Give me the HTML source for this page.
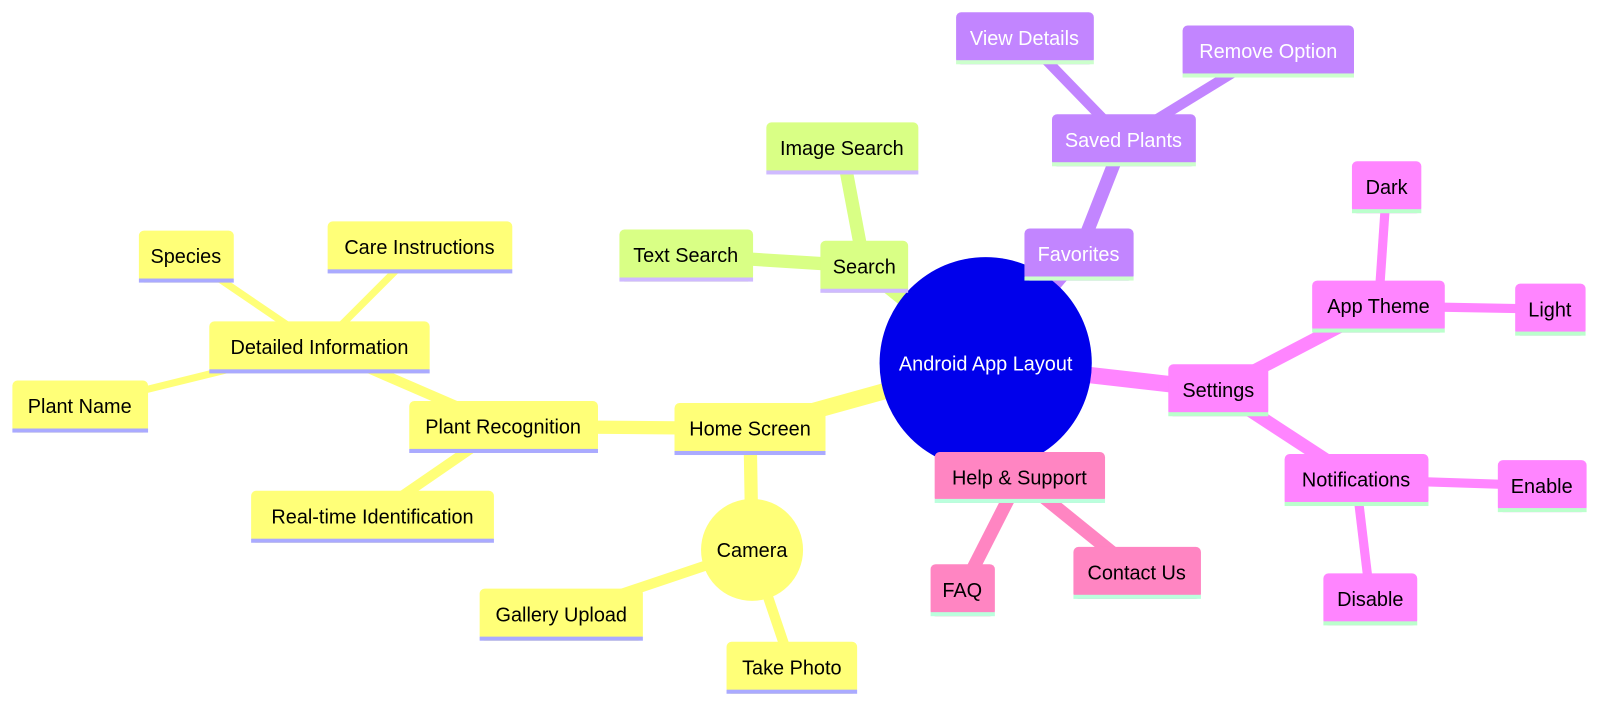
<!DOCTYPE html>
<html><head><meta charset="utf-8"><style>
html,body{margin:0;padding:0;background:#fff;}
svg{display:block;}
text{font-family:"Liberation Sans",sans-serif;font-size:19.5px;text-anchor:middle;}
</style></head><body>
<svg width="1600" height="706" viewBox="0 0 1568 692" xmlns="http://www.w3.org/2000/svg">
<g stroke-linecap="butt" fill="none">
<g stroke="#ffff78">
<line x1="966" y1="356" x2="735" y2="420" stroke-width="16"/>
<line x1="735" y1="420" x2="493" y2="418" stroke-width="13"/>
<line x1="735" y1="420" x2="737" y2="539" stroke-width="13"/>
<line x1="493" y1="418" x2="313" y2="340" stroke-width="10"/>
<line x1="493" y1="418" x2="365" y2="506" stroke-width="10"/>
<line x1="313" y1="340" x2="182" y2="251" stroke-width="7"/>
<line x1="313" y1="340" x2="411" y2="242" stroke-width="7"/>
<line x1="313" y1="340" x2="78" y2="398" stroke-width="7"/>
<line x1="737" y1="539" x2="550" y2="602" stroke-width="10"/>
<line x1="737" y1="539" x2="776" y2="654" stroke-width="10"/>
</g>
<g stroke="#d9ff85">
<line x1="966" y1="356" x2="847" y2="261" stroke-width="16"/>
<line x1="847" y1="261" x2="672" y2="250" stroke-width="13"/>
<line x1="847" y1="261" x2="825" y2="145" stroke-width="13"/>
</g>
<g stroke="#c285ff">
<line x1="966" y1="356" x2="1057" y2="249" stroke-width="16"/>
<line x1="1057" y1="249" x2="1101" y2="137" stroke-width="13"/>
<line x1="1101" y1="137" x2="1004" y2="37" stroke-width="10"/>
<line x1="1101" y1="137" x2="1243" y2="50" stroke-width="10"/>
</g>
<g stroke="#ff85ff">
<line x1="966" y1="356" x2="1194" y2="382" stroke-width="16"/>
<line x1="1194" y1="382" x2="1351" y2="300" stroke-width="13"/>
<line x1="1194" y1="382" x2="1329" y2="470" stroke-width="13"/>
<line x1="1351" y1="300" x2="1359" y2="183" stroke-width="9"/>
<line x1="1351" y1="300" x2="1519" y2="303" stroke-width="9"/>
<line x1="1329" y1="470" x2="1511" y2="476" stroke-width="9"/>
<line x1="1329" y1="470" x2="1343" y2="587" stroke-width="9"/>
</g>
<g stroke="#ff85c2">
<line x1="966" y1="356" x2="999" y2="468" stroke-width="16"/>
<line x1="999" y1="468" x2="943" y2="578" stroke-width="13"/>
<line x1="999" y1="468" x2="1114" y2="561" stroke-width="13"/>
</g>
</g>

<circle cx="966" cy="356" r="104" fill="#0000eb"/>
<text x="966" y="363" fill="#fff">Android App Layout</text>

<circle cx="737" cy="539" r="50" fill="#ffff78"/>
<text x="737" y="546">Camera</text>

<g>
<rect x="661" y="395" width="148" height="51" rx="5" fill="#ffff78"/><rect x="661" y="442" width="148" height="4" fill="#aaaaff"/><text x="735" y="427">Home Screen</text>
<rect x="401" y="393" width="185" height="51" rx="5" fill="#ffff78"/><rect x="401" y="440" width="185" height="4" fill="#aaaaff"/><text x="493" y="425">Plant Recognition</text>
<rect x="205" y="315" width="216" height="51" rx="5" fill="#ffff78"/><rect x="205" y="362" width="216" height="4" fill="#aaaaff"/><text x="313" y="347">Detailed Information</text>
<rect x="136" y="226" width="93" height="51" rx="5" fill="#ffff78"/><rect x="136" y="273" width="93" height="4" fill="#aaaaff"/><text x="182" y="258">Species</text>
<rect x="321" y="217" width="181" height="51" rx="5" fill="#ffff78"/><rect x="321" y="264" width="181" height="4" fill="#aaaaff"/><text x="411" y="249">Care Instructions</text>
<rect x="12" y="373" width="133" height="51" rx="5" fill="#ffff78"/><rect x="12" y="420" width="133" height="4" fill="#aaaaff"/><text x="78" y="405">Plant Name</text>
<rect x="246" y="481" width="238" height="51" rx="5" fill="#ffff78"/><rect x="246" y="528" width="238" height="4" fill="#aaaaff"/><text x="365" y="513">Real-time Identification</text>
<rect x="470" y="577" width="160" height="51" rx="5" fill="#ffff78"/><rect x="470" y="624" width="160" height="4" fill="#aaaaff"/><text x="550" y="609">Gallery Upload</text>
<rect x="712" y="629" width="128" height="51" rx="5" fill="#ffff78"/><rect x="712" y="676" width="128" height="4" fill="#aaaaff"/><text x="776" y="661">Take Photo</text>
<rect x="804" y="236" width="86" height="51" rx="5" fill="#d9ff85"/><rect x="804" y="283" width="86" height="4" fill="#cfbaff"/><text x="847" y="268">Search</text>
<rect x="607" y="225" width="131" height="51" rx="5" fill="#d9ff85"/><rect x="607" y="272" width="131" height="4" fill="#cfbaff"/><text x="672" y="257">Text Search</text>
<rect x="751" y="120" width="149" height="51" rx="5" fill="#d9ff85"/><rect x="751" y="167" width="149" height="4" fill="#cfbaff"/><text x="825" y="152">Image Search</text>
<rect x="1004" y="224" width="107" height="51" rx="5" fill="#c285ff"/><rect x="1004" y="271" width="107" height="4" fill="#ccffcc"/><text x="1057" y="256" fill="#fff">Favorites</text>
<rect x="1031" y="112" width="141" height="51" rx="5" fill="#c285ff"/><rect x="1031" y="159" width="141" height="4" fill="#ccffcc"/><text x="1101" y="144" fill="#fff">Saved Plants</text>
<rect x="937" y="12" width="135" height="51" rx="5" fill="#c285ff"/><rect x="937" y="59" width="135" height="4" fill="#ccffcc"/><text x="1004" y="44" fill="#fff">View Details</text>
<rect x="1159" y="25" width="168" height="51" rx="5" fill="#c285ff"/><rect x="1159" y="72" width="168" height="4" fill="#ccffcc"/><text x="1243" y="57" fill="#fff">Remove Option</text>
<rect x="1145" y="357" width="98" height="51" rx="5" fill="#ff85ff"/><rect x="1145" y="404" width="98" height="4" fill="#bbffcc"/><text x="1194" y="389">Settings</text>
<rect x="1286" y="275" width="130" height="51" rx="5" fill="#ff85ff"/><rect x="1286" y="322" width="130" height="4" fill="#bbffcc"/><text x="1351" y="307">App Theme</text>
<rect x="1325" y="158" width="68" height="51" rx="5" fill="#ff85ff"/><rect x="1325" y="205" width="68" height="4" fill="#bbffcc"/><text x="1359" y="190">Dark</text>
<rect x="1485" y="278" width="69" height="51" rx="5" fill="#ff85ff"/><rect x="1485" y="325" width="69" height="4" fill="#bbffcc"/><text x="1519" y="310">Light</text>
<rect x="1259" y="445" width="141" height="51" rx="5" fill="#ff85ff"/><rect x="1259" y="492" width="141" height="4" fill="#bbffcc"/><text x="1329" y="477">Notifications</text>
<rect x="1468" y="451" width="87" height="51" rx="5" fill="#ff85ff"/><rect x="1468" y="498" width="87" height="4" fill="#bbffcc"/><text x="1511" y="483">Enable</text>
<rect x="1297" y="562" width="92" height="51" rx="5" fill="#ff85ff"/><rect x="1297" y="609" width="92" height="4" fill="#bbffcc"/><text x="1343" y="594">Disable</text>
<rect x="916" y="443" width="167" height="50" rx="5" fill="#ff85c2"/><rect x="916" y="489" width="167" height="4" fill="#bbffdd"/><text x="999" y="475">Help &amp; Support</text>
<rect x="912" y="553" width="63" height="51" rx="5" fill="#ff85c2"/><rect x="912" y="600" width="63" height="4" fill="#bbffdd"/><text x="943" y="585">FAQ</text>
<rect x="1052" y="536" width="125" height="51" rx="5" fill="#ff85c2"/><rect x="1052" y="583" width="125" height="4" fill="#bbffdd"/><text x="1114" y="568">Contact Us</text>
</g>
</svg>
</body></html>
